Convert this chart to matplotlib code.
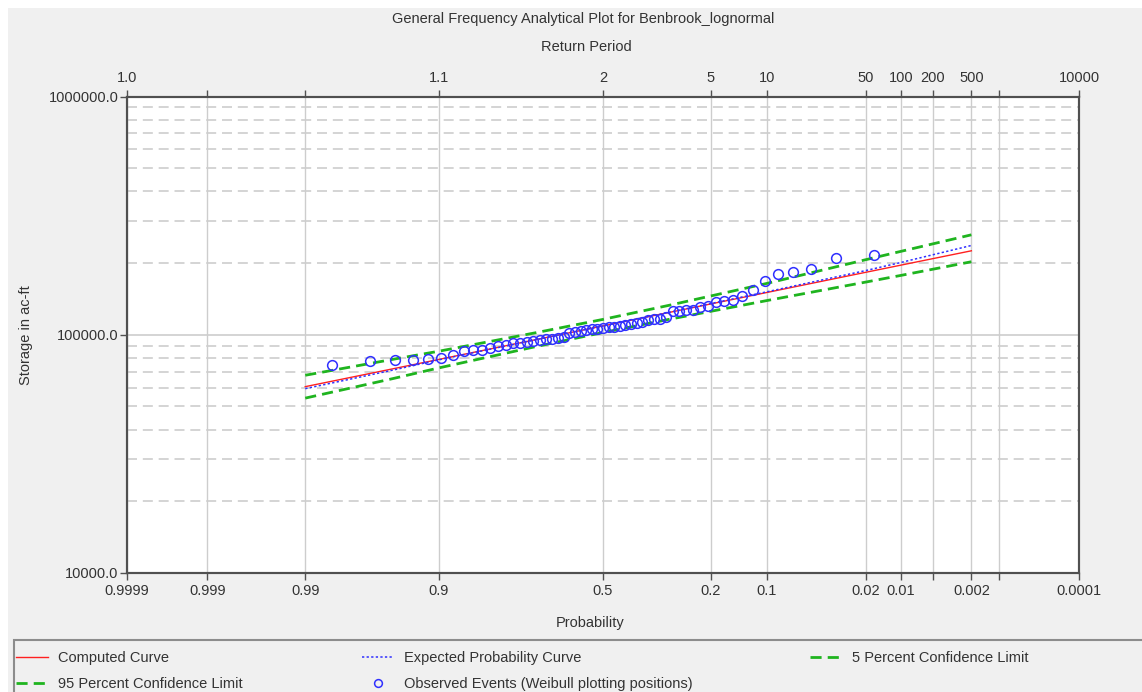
import numpy as np
import matplotlib
matplotlib.use("Agg")
import matplotlib.pyplot as plt
from matplotlib.lines import Line2D
from matplotlib.patches import Rectangle
from matplotlib.ticker import FixedLocator, NullLocator, FuncFormatter, LogLocator
from statistics import NormalDist

# ---------------- data ----------------
title = "General Frequency Analytical Plot for Benbrook_lognormal"

prob_ticks = [0.9999, 0.999, 0.99, 0.9, 0.5, 0.2, 0.1, 0.02, 0.01, 0.005, 0.002, 0.001, 0.0001]
prob_labels = ["0.9999", "0.999", "0.99", "0.9", "0.5", "0.2", "0.1", "0.02", "0.01", "", "0.002", "", "0.0001"]
return_labels = ["1.0", "", "", "1.1", "2", "5", "10", "50", "100", "200", "500", "", "10000"]

curve_prob = [0.99, 0.95, 0.9, 0.7, 0.5, 0.3, 0.1, 0.02, 0.01, 0.002]
computed_curve = [60550, 71900, 78800, 95400, 108900, 124300, 150500, 182900, 195900, 225100]
expected_curve = [59400, 71000, 78500, 95300, 108900, 124500, 151500, 186000, 201000, 237000]
upper_cl_5pct = [67600, 78800, 85300, 102000, 116000, 133200, 164300, 206600, 223800, 262700]
lower_cl_95pct = [54200, 65400, 72600, 89200, 102200, 116300, 139200, 166400, 177400, 202500]

# observed events, sorted largest first (rank 1 = largest)
observed_storage = [215400, 210700, 188200, 183400, 180600, 168100, 154700, 145000, 139900, 138600,
                    136900, 131700, 130800, 127600, 126700, 125800, 125400, 119200, 116900, 115900,
                    115000, 113200, 112100, 110700, 109600, 108600, 107800, 107500, 107200, 106200,
                    105500, 104400, 103400, 102700, 102100, 97900, 97000, 96400, 95700, 94800,
                    93900, 93300, 92700, 92600, 90400, 89800, 88400, 86700, 86500, 85700,
                    82000, 79900, 78900, 78200, 78100, 77400, 75000]
n_obs = len(observed_storage)
observed_prob = [(i + 1) / (n_obs + 1) for i in range(n_obs)]  # Weibull plotting positions

# ---------------- probability scale ----------------
_nd = NormalDist()
_ppf = np.vectorize(_nd.inv_cdf, otypes=[float])
_cdf = np.vectorize(_nd.cdf, otypes=[float])


def fwd(p):
    p = np.clip(np.asarray(p, dtype=float), 1e-12, 1 - 1e-12)
    return _ppf(p)


def inv(z):
    return _cdf(np.asarray(z, dtype=float))


# ---------------- figure ----------------
W, H = 1142, 692
plt.rcParams["font.family"] = ["Liberation Sans", "DejaVu Sans"]
FS = 10.5
TXT = "#333333"
SPINE = "#505050"
GRID = "#cdcdcd"

fig = plt.figure(figsize=(W / 100, H / 100), dpi=100, facecolor="white")
fig.add_artist(Rectangle((8 / W, 0), 1, (H - 8) / H, transform=fig.transFigure,
                         facecolor="#f0f0f0", edgecolor="none", zorder=-10))

L, R, T, B = 127, 1079, 96.5, 573
ax = fig.add_axes([L / W, 1 - B / H, (R - L) / W, (B - T) / H])
ax.set_facecolor("white")

ax.set_xscale("function", functions=(fwd, inv))
ax.set_xlim(0.9999, 0.0001)
ax.set_yscale("log")
ax.set_ylim(1e4, 1e6)

ax.xaxis.set_major_locator(FixedLocator(prob_ticks))
ax.xaxis.set_minor_locator(NullLocator())
ax.set_xticklabels(prob_labels)

ax.yaxis.set_major_locator(FixedLocator([1e4, 1e5, 1e6]))
ax.yaxis.set_minor_locator(LogLocator(base=10, subs=np.arange(2, 10)))
ax.yaxis.set_major_formatter(FuncFormatter(lambda v, pos: f"{v:.1f}"))
ax.yaxis.set_minor_formatter(FuncFormatter(lambda v, pos: ""))

ax.grid(axis="x", which="major", color=GRID, lw=1.0, ls="-", zorder=0)
ax.grid(axis="y", which="major", color=GRID, lw=1.2, ls="-", zorder=0)
ax.grid(axis="y", which="minor", color=GRID, lw=1.2, ls=(0, (6, 3.5)), zorder=0)
ax.set_axisbelow(True)

ax.tick_params(axis="both", which="major", direction="out", length=5, width=1,
               color=SPINE, labelcolor=TXT, labelsize=FS)
ax.tick_params(axis="x", pad=3)
ax.tick_params(axis="y", pad=1)
ax.tick_params(axis="y", which="minor", length=0)
for s in ax.spines.values():
    s.set_color(SPINE)
    s.set_linewidth(1.5)

# top return-period axis
ax2 = ax.twiny()
ax2.set_xscale("function", functions=(fwd, inv))
ax2.set_xlim(0.9999, 0.0001)
ax2.xaxis.set_major_locator(FixedLocator(prob_ticks))
ax2.xaxis.set_minor_locator(NullLocator())
ax2.set_xticklabels(return_labels)
ax2.tick_params(axis="x", direction="out", length=5, width=1, color=SPINE,
                labelcolor=TXT, labelsize=FS, pad=3)
for s in ax2.spines.values():
    s.set_color(SPINE)
    s.set_linewidth(1.5)

# ---------------- series ----------------
RED = "#ff2020"
BLUE = "#3030ff"
GREEN = "#1fb41f"

h_comp, = ax.plot(curve_prob, computed_curve, color=RED, lw=1.0, zorder=3)
h_exp, = ax.plot(curve_prob, expected_curve, color=BLUE, lw=1.1, ls=(0, (1.5, 1.5)), zorder=3)
h_up, = ax.plot(curve_prob, upper_cl_5pct, color=GREEN, lw=2.0, ls=(0, (4, 2.2)), zorder=3)
h_lo, = ax.plot(curve_prob, lower_cl_95pct, color=GREEN, lw=2.0, ls=(0, (4, 2.2)), zorder=3)
h_obs, = ax.plot(observed_prob, observed_storage, ls="none", marker="o", ms=7,
                 mfc="none", mec=BLUE, mew=1.1, zorder=4)

# ---------------- texts ----------------
fig.text(583 / W, 1 - 19 / H, title, ha="center", va="center", fontsize=FS, color=TXT)
fig.text(586 / W, 1 - 47 / H, "Return Period", ha="center", va="center", fontsize=FS, color=TXT)
fig.text(590 / W, 1 - 623 / H, "Probability", ha="center", va="center", fontsize=FS, color=TXT)
fig.text(26 / W, 1 - 335 / H, "Storage in ac-ft", ha="center", va="center", rotation=90,
         fontsize=FS, color=TXT)

# ---------------- legend ----------------
fig.add_artist(Rectangle((14 / W, -0.05), 1, (H - 640) / H + 0.05, transform=fig.transFigure,
                         facecolor="#f0f0f0", edgecolor="#8c8c8c", lw=1.5, zorder=1))

leg_kw = dict(frameon=False, loc="upper left", fontsize=FS, labelcolor=TXT,
              handlelength=2.2, handletextpad=0.7, labelspacing=0.85,
              borderpad=0, borderaxespad=0, markerscale=0.8)
legend_top = 1 - 651 / H
fig.legend([h_comp, h_lo], ["Computed Curve", "95 Percent Confidence Limit"],
           bbox_to_anchor=(16 / W, legend_top), **leg_kw)
fig.legend([h_exp, h_obs], ["Expected Probability Curve", "Observed Events (Weibull plotting positions)"],
           bbox_to_anchor=(362 / W, legend_top), **leg_kw)
fig.legend([h_up], ["5 Percent Confidence Limit"],
           bbox_to_anchor=(810 / W, legend_top), **leg_kw)
for lg in fig.legends:
    lg.set_zorder(5)

fig.savefig("out.png", dpi=100, facecolor=fig.get_facecolor())
